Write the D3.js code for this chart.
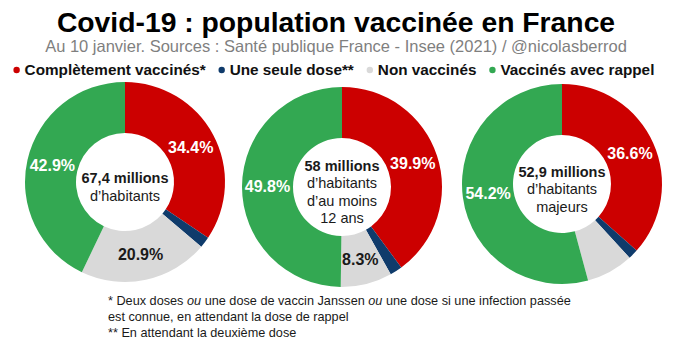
<!DOCTYPE html>
<html>
<head>
<meta charset="utf-8">
<script src="https://cdn.jsdelivr.net/npm/d3@7"></script>
<style>
  body { margin: 0; background: #fff; }
  svg { display: block; font-family: "Liberation Sans", Arial, sans-serif; }
</style>
</head>
<body>
<div id="chart"></div>
<script>
"use strict";

// categories (legend order = slice order, clockwise from top)
const categories = ["Complètement vaccinés*", "Une seule dose**", "Non vaccinés", "Vaccinés avec rappel"];
const colors = ["#cc0000", "#0f3b6b", "#d9d9d9", "#33a852"];

// one value per donut: ensemble, 12 ans et +, majeurs
const complets = [34.4, 39.9, 36.6];
const uneDose = [1.8, 2.0, 1.6];
const nonVaccines = [20.9, 8.3, 7.6];
const rappel = [42.9, 49.8, 54.2];

const centerLines = [
  ["67,4 millions", "d’habitants"],
  ["58 millions", "d’habitants", "d’au moins", "12 ans"],
  ["52,9 millions", "d’habitants", "majeurs"]
];

const footnotes = [
  ["* Deux doses ", ["ou", true], " une dose de vaccin Janssen ", ["ou", true], " une dose si une infection passée"],
  ["est connue, en attendant la dose de rappel"],
  ["** En attendant la deuxième dose"]
];

var width = 680,
    height = 346,
    outerR = 100,
    innerR = 49,
    centers = [[125, 182], [342, 187], [562, 184]];

var svg = d3.select("#chart").append("svg")
    .attr("width", width)
    .attr("height", height);

// title + subtitle
svg.append("text")
    .attr("x", 336).attr("y", 32)
    .attr("text-anchor", "middle")
    .style("font-size", "28.3px").style("font-weight", "bold").style("fill", "#000")
    .text("Covid-19 : population vaccinée en France");

svg.append("text")
    .attr("x", 336).attr("y", 52)
    .attr("text-anchor", "middle")
    .style("font-size", "16.5px").style("fill", "#7f7f7f")
    .text("Au 10 janvier. Sources : Santé publique France - Insee (2021) / @nicolasberrod");

// legend, laid out from measured text widths
var legend = svg.append("g").attr("class", "legend");
var items = legend.selectAll("g").data(categories).enter().append("g");
items.append("circle")
    .attr("r", 3.2)
    .attr("cy", -5)
    .style("fill", function(d, i) { return colors[i]; });
items.append("text")
    .attr("x", 8)
    .style("font-size", "15.3px").style("font-weight", "bold").style("fill", "#111")
    .text(function(d) { return d; });

var gap = 16, xpos = 0, offsets = [];
items.each(function() {
  offsets.push(xpos);
  xpos += 8 + d3.select(this).select("text").node().getComputedTextLength() + gap;
});
var legendW = xpos - gap;
items.attr("transform", function(d, i) { return "translate(" + offsets[i] + ",0)"; });
legend.attr("transform", "translate(" + ((18 + 653) / 2 - legendW / 2) + ",75)");

// donuts
var pie = d3.pie().sort(null).value(function(d) { return d; });
var arc = d3.arc().innerRadius(innerR).outerRadius(outerR);

centers.forEach(function(c, k) {
  var values = [complets[k], uneDose[k], nonVaccines[k], rappel[k]];
  var g = svg.append("g").attr("transform", "translate(" + c[0] + "," + c[1] + ")");

  g.selectAll("path")
      .data(pie(values))
    .enter().append("path")
      .attr("d", arc)
      .style("fill", function(d, i) { return colors[i]; });

  g.selectAll("text.pct")
      .data(pie(values).filter(function(d) { return d.value >= 8; }))
    .enter().append("text")
      .attr("class", "pct")
      .attr("transform", function(d) { return "translate(" + arc.centroid(d) + ")"; })
      .attr("dy", "0.35em")
      .attr("text-anchor", "middle")
      .style("font-size", "16px").style("font-weight", "bold")
      .style("fill", function(d) { return d.index === 2 ? "#1a1a1a" : "#fff"; })
      .text(function(d) { return d.value.toFixed(1) + "%"; });

  var lines = centerLines[k],
      lh = 17.5,
      y0 = 5 - (lines.length - 1) * lh / 2;
  g.selectAll("text.center")
      .data(lines)
    .enter().append("text")
      .attr("class", "center")
      .attr("y", function(d, i) { return y0 + i * lh; })
      .attr("dy", "0.35em")
      .attr("text-anchor", "middle")
      .style("font-size", "14.5px")
      .style("font-weight", function(d, i) { return i === 0 ? "bold" : "normal"; })
      .style("fill", "#1a1a1a")
      .text(function(d) { return d; });
});

// footnotes
var notes = svg.append("g").attr("transform", "translate(108,305)");
footnotes.forEach(function(parts, i) {
  var t = notes.append("text")
      .attr("y", i * 16)
      .style("font-size", "12.7px").style("fill", "#1a1a1a");
  parts.forEach(function(p) {
    var isItalic = Array.isArray(p);
    t.append("tspan")
        .style("font-style", isItalic ? "italic" : "normal")
        .text(isItalic ? p[0] : p);
  });
});
</script>
</body>
</html>
